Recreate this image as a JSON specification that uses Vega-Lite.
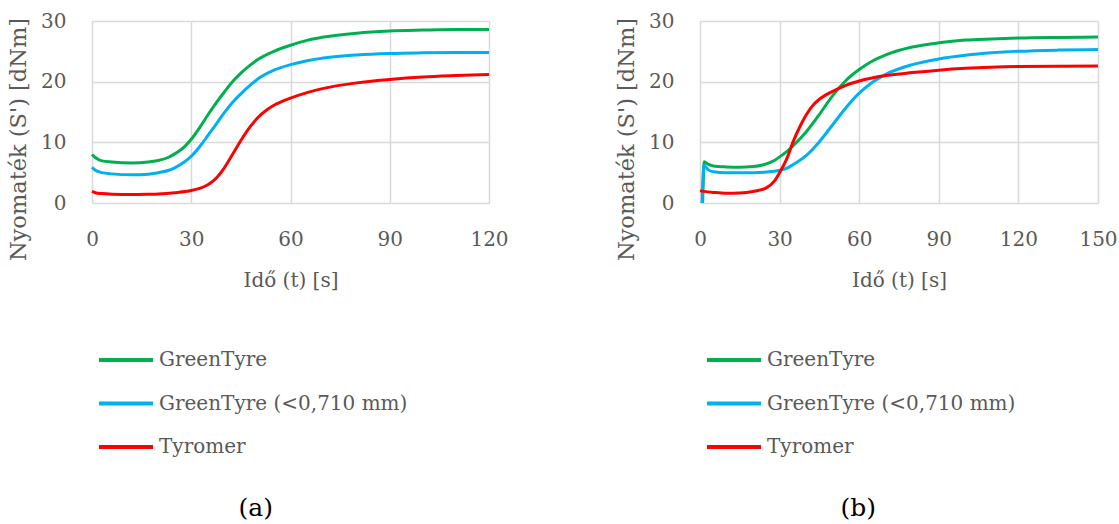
{
  "$schema": "https://vega.github.io/schema/vega-lite/v6.json",
  "background": "white",
  "padding": {"left": 7, "top": 11, "right": 5, "bottom": 2},
  "spacing": 106,
  "config": {
    "font": "DejaVu Serif",
    "view": {"stroke": null},
    "axis": {
      "labelFont": "DejaVu Serif", "labelFontSize": 20, "labelColor": "#595959", "labelFlush": false,
      "titleFont": "DejaVu Serif", "titleFontSize": 20, "titleColor": "#595959", "titleFontWeight": "normal",
      "gridColor": "#d9d9d9", "gridWidth": 1.5, "domain": false, "ticks": false
    },
    "legend": {
      "labelFont": "DejaVu Serif", "labelFontSize": 20, "labelColor": "#595959", "labelLimit": 500
    }
  },
  "datasets": {
    "a": [
      {"s": "GreenTyre", "t": 0, "v": 8.0}, {"s": "GreenTyre", "t": 1, "v": 7.5}, {"s": "GreenTyre", "t": 3, "v": 6.95}, {"s": "GreenTyre", "t": 6, "v": 6.75}, {"s": "GreenTyre", "t": 12, "v": 6.6}, {"s": "GreenTyre", "t": 17, "v": 6.75}, {"s": "GreenTyre", "t": 20, "v": 7.0}, {"s": "GreenTyre", "t": 23, "v": 7.5}, {"s": "GreenTyre", "t": 25, "v": 8.1}, {"s": "GreenTyre", "t": 28, "v": 9.3}, {"s": "GreenTyre", "t": 30, "v": 10.5}, {"s": "GreenTyre", "t": 33, "v": 12.8}, {"s": "GreenTyre", "t": 35, "v": 14.5}, {"s": "GreenTyre", "t": 37, "v": 16.1}, {"s": "GreenTyre", "t": 40, "v": 18.3}, {"s": "GreenTyre", "t": 43, "v": 20.3}, {"s": "GreenTyre", "t": 45, "v": 21.4}, {"s": "GreenTyre", "t": 48, "v": 22.8}, {"s": "GreenTyre", "t": 50, "v": 23.6}, {"s": "GreenTyre", "t": 55, "v": 25.0}, {"s": "GreenTyre", "t": 60, "v": 26.0}, {"s": "GreenTyre", "t": 65, "v": 26.8}, {"s": "GreenTyre", "t": 70, "v": 27.35}, {"s": "GreenTyre", "t": 80, "v": 28.0}, {"s": "GreenTyre", "t": 90, "v": 28.35}, {"s": "GreenTyre", "t": 100, "v": 28.5}, {"s": "GreenTyre", "t": 110, "v": 28.6}, {"s": "GreenTyre", "t": 120, "v": 28.6},
      {"s": "GreenTyre (<0,710 mm)", "t": 0, "v": 5.9}, {"s": "GreenTyre (<0,710 mm)", "t": 1, "v": 5.4}, {"s": "GreenTyre (<0,710 mm)", "t": 3, "v": 5.0}, {"s": "GreenTyre (<0,710 mm)", "t": 6, "v": 4.8}, {"s": "GreenTyre (<0,710 mm)", "t": 12, "v": 4.65}, {"s": "GreenTyre (<0,710 mm)", "t": 17, "v": 4.75}, {"s": "GreenTyre (<0,710 mm)", "t": 20, "v": 5.0}, {"s": "GreenTyre (<0,710 mm)", "t": 23, "v": 5.35}, {"s": "GreenTyre (<0,710 mm)", "t": 25, "v": 5.8}, {"s": "GreenTyre (<0,710 mm)", "t": 28, "v": 6.8}, {"s": "GreenTyre (<0,710 mm)", "t": 30, "v": 7.7}, {"s": "GreenTyre (<0,710 mm)", "t": 33, "v": 9.6}, {"s": "GreenTyre (<0,710 mm)", "t": 35, "v": 11.1}, {"s": "GreenTyre (<0,710 mm)", "t": 37, "v": 12.6}, {"s": "GreenTyre (<0,710 mm)", "t": 40, "v": 14.9}, {"s": "GreenTyre (<0,710 mm)", "t": 43, "v": 16.9}, {"s": "GreenTyre (<0,710 mm)", "t": 45, "v": 18.0}, {"s": "GreenTyre (<0,710 mm)", "t": 48, "v": 19.5}, {"s": "GreenTyre (<0,710 mm)", "t": 50, "v": 20.4}, {"s": "GreenTyre (<0,710 mm)", "t": 55, "v": 21.9}, {"s": "GreenTyre (<0,710 mm)", "t": 60, "v": 22.8}, {"s": "GreenTyre (<0,710 mm)", "t": 65, "v": 23.45}, {"s": "GreenTyre (<0,710 mm)", "t": 70, "v": 23.9}, {"s": "GreenTyre (<0,710 mm)", "t": 80, "v": 24.4}, {"s": "GreenTyre (<0,710 mm)", "t": 90, "v": 24.65}, {"s": "GreenTyre (<0,710 mm)", "t": 100, "v": 24.75}, {"s": "GreenTyre (<0,710 mm)", "t": 110, "v": 24.8}, {"s": "GreenTyre (<0,710 mm)", "t": 120, "v": 24.8},
      {"s": "Tyromer", "t": 0, "v": 1.9}, {"s": "Tyromer", "t": 1, "v": 1.7}, {"s": "Tyromer", "t": 3, "v": 1.55}, {"s": "Tyromer", "t": 6, "v": 1.45}, {"s": "Tyromer", "t": 12, "v": 1.4}, {"s": "Tyromer", "t": 17, "v": 1.45}, {"s": "Tyromer", "t": 20, "v": 1.5}, {"s": "Tyromer", "t": 25, "v": 1.7}, {"s": "Tyromer", "t": 30, "v": 2.05}, {"s": "Tyromer", "t": 33, "v": 2.5}, {"s": "Tyromer", "t": 35, "v": 3.0}, {"s": "Tyromer", "t": 37, "v": 3.8}, {"s": "Tyromer", "t": 40, "v": 5.8}, {"s": "Tyromer", "t": 43, "v": 8.5}, {"s": "Tyromer", "t": 45, "v": 10.3}, {"s": "Tyromer", "t": 48, "v": 12.7}, {"s": "Tyromer", "t": 50, "v": 14.0}, {"s": "Tyromer", "t": 53, "v": 15.4}, {"s": "Tyromer", "t": 55, "v": 16.1}, {"s": "Tyromer", "t": 60, "v": 17.3}, {"s": "Tyromer", "t": 65, "v": 18.2}, {"s": "Tyromer", "t": 70, "v": 18.9}, {"s": "Tyromer", "t": 80, "v": 19.8}, {"s": "Tyromer", "t": 90, "v": 20.35}, {"s": "Tyromer", "t": 100, "v": 20.75}, {"s": "Tyromer", "t": 110, "v": 21.0}, {"s": "Tyromer", "t": 120, "v": 21.2}
    ],
    "b": [
      {"s": "GreenTyre", "t": 1.0, "v": 0}, {"s": "GreenTyre", "t": 1.6, "v": 6.8}, {"s": "GreenTyre", "t": 3, "v": 6.4}, {"s": "GreenTyre", "t": 5, "v": 6.1}, {"s": "GreenTyre", "t": 10, "v": 5.95}, {"s": "GreenTyre", "t": 15, "v": 5.9}, {"s": "GreenTyre", "t": 20, "v": 6.0}, {"s": "GreenTyre", "t": 25, "v": 6.45}, {"s": "GreenTyre", "t": 28, "v": 7.0}, {"s": "GreenTyre", "t": 30, "v": 7.6}, {"s": "GreenTyre", "t": 33, "v": 8.6}, {"s": "GreenTyre", "t": 35, "v": 9.4}, {"s": "GreenTyre", "t": 40, "v": 11.7}, {"s": "GreenTyre", "t": 45, "v": 14.6}, {"s": "GreenTyre", "t": 50, "v": 17.7}, {"s": "GreenTyre", "t": 55, "v": 20.2}, {"s": "GreenTyre", "t": 60, "v": 22.0}, {"s": "GreenTyre", "t": 65, "v": 23.4}, {"s": "GreenTyre", "t": 70, "v": 24.4}, {"s": "GreenTyre", "t": 80, "v": 25.7}, {"s": "GreenTyre", "t": 90, "v": 26.4}, {"s": "GreenTyre", "t": 100, "v": 26.85}, {"s": "GreenTyre", "t": 110, "v": 27.05}, {"s": "GreenTyre", "t": 120, "v": 27.2}, {"s": "GreenTyre", "t": 135, "v": 27.3}, {"s": "GreenTyre", "t": 150, "v": 27.35},
      {"s": "GreenTyre (<0,710 mm)", "t": 0.8, "v": 0}, {"s": "GreenTyre (<0,710 mm)", "t": 1.5, "v": 6.2}, {"s": "GreenTyre (<0,710 mm)", "t": 3, "v": 5.5}, {"s": "GreenTyre (<0,710 mm)", "t": 5, "v": 5.15}, {"s": "GreenTyre (<0,710 mm)", "t": 10, "v": 5.0}, {"s": "GreenTyre (<0,710 mm)", "t": 20, "v": 5.0}, {"s": "GreenTyre (<0,710 mm)", "t": 25, "v": 5.1}, {"s": "GreenTyre (<0,710 mm)", "t": 30, "v": 5.4}, {"s": "GreenTyre (<0,710 mm)", "t": 33, "v": 5.8}, {"s": "GreenTyre (<0,710 mm)", "t": 35, "v": 6.3}, {"s": "GreenTyre (<0,710 mm)", "t": 40, "v": 7.8}, {"s": "GreenTyre (<0,710 mm)", "t": 45, "v": 10.1}, {"s": "GreenTyre (<0,710 mm)", "t": 50, "v": 12.9}, {"s": "GreenTyre (<0,710 mm)", "t": 55, "v": 15.7}, {"s": "GreenTyre (<0,710 mm)", "t": 60, "v": 18.1}, {"s": "GreenTyre (<0,710 mm)", "t": 65, "v": 19.9}, {"s": "GreenTyre (<0,710 mm)", "t": 70, "v": 21.2}, {"s": "GreenTyre (<0,710 mm)", "t": 80, "v": 22.8}, {"s": "GreenTyre (<0,710 mm)", "t": 90, "v": 23.75}, {"s": "GreenTyre (<0,710 mm)", "t": 100, "v": 24.35}, {"s": "GreenTyre (<0,710 mm)", "t": 110, "v": 24.75}, {"s": "GreenTyre (<0,710 mm)", "t": 120, "v": 25.0}, {"s": "GreenTyre (<0,710 mm)", "t": 135, "v": 25.2}, {"s": "GreenTyre (<0,710 mm)", "t": 150, "v": 25.3},
      {"s": "Tyromer", "t": 0, "v": 2.0}, {"s": "Tyromer", "t": 5, "v": 1.75}, {"s": "Tyromer", "t": 10, "v": 1.6}, {"s": "Tyromer", "t": 15, "v": 1.65}, {"s": "Tyromer", "t": 20, "v": 1.9}, {"s": "Tyromer", "t": 25, "v": 2.5}, {"s": "Tyromer", "t": 28, "v": 3.6}, {"s": "Tyromer", "t": 30, "v": 5.0}, {"s": "Tyromer", "t": 33, "v": 7.6}, {"s": "Tyromer", "t": 35, "v": 10.0}, {"s": "Tyromer", "t": 38, "v": 12.9}, {"s": "Tyromer", "t": 40, "v": 14.5}, {"s": "Tyromer", "t": 43, "v": 16.3}, {"s": "Tyromer", "t": 45, "v": 17.1}, {"s": "Tyromer", "t": 50, "v": 18.4}, {"s": "Tyromer", "t": 55, "v": 19.4}, {"s": "Tyromer", "t": 60, "v": 20.1}, {"s": "Tyromer", "t": 70, "v": 21.0}, {"s": "Tyromer", "t": 80, "v": 21.5}, {"s": "Tyromer", "t": 90, "v": 21.9}, {"s": "Tyromer", "t": 100, "v": 22.2}, {"s": "Tyromer", "t": 120, "v": 22.5}, {"s": "Tyromer", "t": 150, "v": 22.6}
    ]
  },
  "resolve": {"scale": {"color": "independent"}, "legend": {"color": "independent"}},
  "hconcat": [
    {
      "width": 397, "height": 182,
      "data": {"name": "a"},
      "title": {"text": "(a)", "orient": "bottom", "frame": "bounds", "anchor": "middle", "offset": 39, "dx": -2, "font": "DejaVu Serif", "fontSize": 25, "fontWeight": "normal", "color": "black"},
      "mark": {"type": "line", "strokeWidth": 3, "interpolate": "monotone"},
      "encoding": {
        "x": {"field": "t", "type": "quantitative", "scale": {"domain": [0, 120], "nice": false}, "axis": {"values": [0, 30, 60, 90, 120], "title": "Idő (t) [s]", "labelPadding": 26, "titlePadding": 21}},
        "y": {"field": "v", "type": "quantitative", "scale": {"domain": [0, 30], "nice": false}, "axis": {"values": [0, 10, 20, 30], "title": "Nyomaték (S') [dNm]", "titleFontSize": 22.5, "titleY": 118, "labelPadding": 26, "titlePadding": 10}},
        "color": {"field": "s", "type": "nominal", "scale": {"domain": ["GreenTyre", "GreenTyre (<0,710 mm)", "Tyromer"], "range": ["#00b050", "#00b0f0", "#ff0000"]}, "legend": {"orient": "none", "legendX": 5, "legendY": 310, "title": null, "symbolType": "stroke", "symbolSize": 2916, "symbolStrokeWidth": 4, "rowPadding": 4.5, "labelOffset": 4}}
      }
    },
    {
      "width": 398, "height": 182,
      "data": {"name": "b"},
      "title": {"text": "(b)", "orient": "bottom", "frame": "bounds", "anchor": "middle", "offset": 39, "dx": -8, "font": "DejaVu Serif", "fontSize": 25, "fontWeight": "normal", "color": "black"},
      "mark": {"type": "line", "strokeWidth": 3, "interpolate": "monotone"},
      "encoding": {
        "x": {"field": "t", "type": "quantitative", "scale": {"domain": [0, 150], "nice": false}, "axis": {"values": [0, 30, 60, 90, 120, 150], "title": "Idő (t) [s]", "labelPadding": 26, "titlePadding": 21}},
        "y": {"field": "v", "type": "quantitative", "scale": {"domain": [0, 30], "nice": false}, "axis": {"values": [0, 10, 20, 30], "title": "Nyomaték (S') [dNm]", "titleFontSize": 22.5, "titleY": 118, "labelPadding": 26, "titlePadding": 10}},
        "color": {"field": "s", "type": "nominal", "scale": {"domain": ["GreenTyre", "GreenTyre (<0,710 mm)", "Tyromer"], "range": ["#00b050", "#00b0f0", "#ff0000"]}, "legend": {"orient": "none", "legendX": 5, "legendY": 310, "title": null, "symbolType": "stroke", "symbolSize": 2916, "symbolStrokeWidth": 4, "rowPadding": 4.5, "labelOffset": 4}}
      }
    }
  ]
}
